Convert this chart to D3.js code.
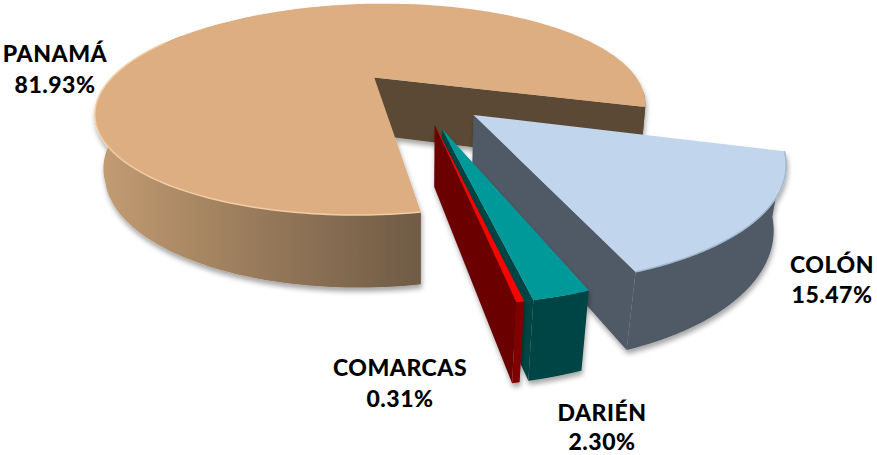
<!DOCTYPE html>
<html><head><meta charset="utf-8">
<script src="https://cdn.jsdelivr.net/npm/d3@7"></script>
<style>html,body{margin:0;background:#fff}svg{display:block}text{font-family:Lato,sans-serif;font-weight:900;fill:#000;font-size:23px;letter-spacing:.5px;text-anchor:middle}</style>
</head><body><svg width="877" height="455"></svg>
<script>
const categories=["PANAMÁ","COLÓN","DARIÉN","COMARCAS"];
const shares=[81.93,15.47,2.30,0.31];
const topColors=["#dcae82","#c1d6ec","#009999","#ff0000"];
const sideColors=["#5b4a36","#4f5a66","#004444","#6b0000"];
const rimColors=["#6e5a45","#4f5a66","#004444","#800000"];
const edgeColors=["#f3cda4","#a3b7cd",null,null];
const labelX=[55,832,602,400];
const labelY=[62,273,421,376];
const labelGap=[31,30,29,31];
const apexNudge=[[.012,0],[-.018,-.035],[0,0],[-.002,-.04]];

const O=[420,98],rx=272,ry=105,p=.28,depth=61,explode=.28,startDeg=169.8;
const svg=d3.select("svg");
const defs=svg.append("defs");
const f=defs.append("filter").attr("id","sh").attr("x","-10%").attr("y","-10%").attr("width","120%").attr("height","120%");
f.append("feGaussianBlur").attr("in","SourceGraphic").attr("stdDeviation",.45).attr("result","soft");
f.append("feDropShadow").attr("in","soft").attr("dx",1).attr("dy",4).attr("stdDeviation",2.5).attr("flood-color","#000").attr("flood-opacity",.35);
const g0=defs.append("linearGradient").attr("id","panamaWall").attr("gradientUnits","userSpaceOnUse").attr("x1",100).attr("x2",425).attr("y1",0).attr("y2",0);
g0.append("stop").attr("offset",0).attr("stop-color","#c39c72");
g0.append("stop").attr("offset",.5).attr("stop-color","#96795a");
g0.append("stop").attr("offset",1).attr("stop-color","#6e5a45");

const pie=d3.pie().value(d=>d).sort(null).startAngle(startDeg*Math.PI/180).endAngle((startDeg+360)*Math.PI/180);
const arcs=pie(shares);
const proj=(X,Y,z)=>{const k=.03*Math.min(1,Math.max(0,(Y+.4)/.6));const s=1/(1-p*Y+k*z);return [O[0]+rx*X*s,O[1]+(ry*Y+depth*z)*s];};
const line=d3.line();
const strip=(pts,g,fill)=>{g.append("path").attr("d",line([...pts.map(t=>t(0)),...pts.map(t=>t(1)).reverse()])+"Z").attr("fill",fill);};
arcs.forEach((a,i)=>{
  const mid=(a.startAngle+a.endAngle)/2;
  const cx=explode*Math.sin(mid),cy=-explode*Math.cos(mid);
  const isMain=i===0;
  const rX=isMain?1.02:1,rY=isMain?1.025:1,ax=isMain?.012:0,ay=isMain?.03:0;
  const pt=(t,z)=>proj(cx+ax+rX*Math.sin(t),cy+ay-rY*Math.cos(t),z);
  const apex=z=>proj(cx+apexNudge[i][0],cy+apexNudge[i][1],z);
  const ts=d3.range(0,241).map(j=>a.startAngle+(a.endAngle-a.startAngle)*j/240);
  const g=svg.append("g").attr("filter","url(#sh)");
  const top=[apex(0),...ts.map(t=>pt(t,0))];
  const e=a.endAngle;
  if(isMain){
    const s=a.startAngle;
    g.append("path").attr("d",line([apex(0),pt(e,0),pt(e,1),apex(1)])+"Z").attr("fill",sideColors[i]);
    strip(ts.filter(t=>t>e-.16).map(t=>z=>pt(t,z)),g,sideColors[i]);
    strip(ts.filter(t=>t<s+2.3).map(t=>z=>pt(t,z)),g,"url(#panamaWall)");
  } else {
    g.append("path").attr("d",line([apex(0),pt(e,0),pt(e,1),apex(1)])+"Z").attr("fill",sideColors[i]);
    strip(ts.map(t=>z=>pt(t,z)),g,rimColors[i]);
  }
  g.append("path").attr("d",line(top)+"Z").attr("fill",topColors[i]);
  if(edgeColors[i]){
    const rim=ts.filter(t=>!isMain||t<a.startAngle+2.2).map(t=>pt(t,0));
    g.append("path").attr("d",line(rim)).attr("fill","none").attr("stroke",edgeColors[i]).attr("stroke-width",1.5);
  }
});
categories.forEach((c,i)=>{
  svg.append("text").attr("x",labelX[i]).attr("y",labelY[i]).text(c);
  svg.append("text").attr("x",labelX[i]).attr("y",labelY[i]+labelGap[i]).text(shares[i].toFixed(2)+"%");
});
</script></body></html>
